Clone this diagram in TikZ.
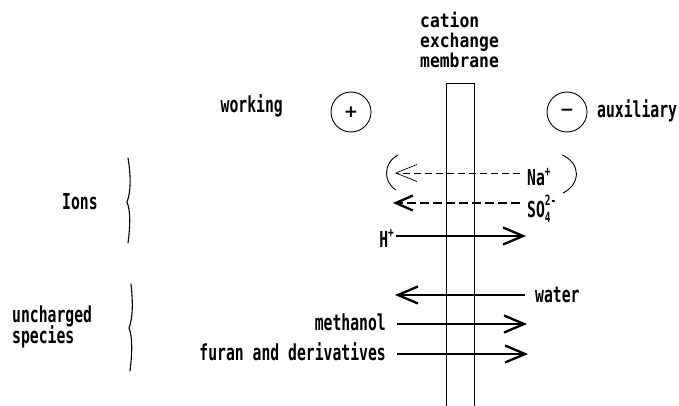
\documentclass[tikz,border=0pt]{standalone}
\usepackage{fontspec}
\newfontfamily\labfont[FakeStretch=0.67]{DejaVu Sans Mono}
\newfontfamily\memfont[FakeStretch=0.86]{DejaVu Sans Mono}
\newfontfamily\symfont{DejaVu Sans}
\usetikzlibrary{arrows.meta}

\begin{document}
\begin{tikzpicture}[x=1pt,y=-1pt,
  lbl/.style={inner sep=0pt, font={\fontsize{22pt}{24pt}\selectfont\labfont\bfseries}},
  memlbl/.style={inner sep=0pt, anchor=base west, font={\fontsize{19pt}{21pt}\selectfont\memfont\bfseries}},
  elec/.style={circle, draw, line width=0.9pt, minimum size=40pt, inner sep=0pt,
               font={\fontsize{17pt}{17pt}\selectfont\symfont\bfseries}},
  memline/.style={line width=0.6pt},
  bigarrow/.style={line width=2.3pt, -{Straight Barb[length=20pt,width=17pt]}},
  naarrow/.style={line width=0.7pt, dash pattern=on 7pt off 4pt,
                  -{Straight Barb[length=21pt,width=17pt]}},
  soarrow/.style={line width=2.3pt, dash pattern=on 9pt off 4pt,
                  -{Straight Barb[length=17pt,width=15pt]}},
  paren/.style={line width=0.9pt},
  groupbrace/.style={line width=1.1pt, line cap=round}
]
\useasboundingbox (0,0) rectangle (679,406);

% membrane
\draw[memline] (446,406) -- (446,83) -- (474,83) -- (474,406);
\node[memlbl] (mem1) at (420,28) {cation};
\node[memlbl] (mem2) at (420,48) {exchange};
\node[memlbl] (mem3) at (420,68) {membrane};

% electrodes
\node[elec] (plus) at (351,112) {+};
\node[elec] (minus) at (567,112) {−};
\node[lbl, anchor=base east] (work) at (283,113) {working};
\node[lbl, anchor=base west] (aux) at (597,118) {auxiliary};

% group labels and hand-drawn braces
\node[lbl, anchor=base west] (ions) at (62,209) {Ions};
\node[lbl, anchor=base west] (unch1) at (12,322) {uncharged};
\node[lbl, anchor=base west] (unch2) at (12,343) {species};
\draw[groupbrace] (128,158) .. controls (131,176) and (131,192) .. (127,202)
                  .. controls (131,212) and (130,228) .. (128,243);
\draw[groupbrace] (131,284) .. controls (133,302) and (133,318) .. (129,328)
                  .. controls (133,338) and (132,355) .. (130,371);

% ions
\node[lbl, anchor=base west] (na) at (527,185)
  {Na\raisebox{9pt}{\fontsize{14pt}{14pt}\selectfont +}};
\node[lbl, anchor=base west] (so4) at (527,217)
  {SO\rlap{\raisebox{12pt}{\fontsize{14pt}{14pt}\selectfont 2-}}\raisebox{-5pt}{\fontsize{14pt}{14pt}\selectfont 4}};
\node[lbl, anchor=base east] (hplus) at (394,247)
  {H\raisebox{10pt}{\fontsize{14pt}{14pt}\selectfont +}};

\coordinate (naTail) at (520,173);
\coordinate (naTip) at (395,173);
\coordinate (soTail) at (520,203);
\coordinate (soTip) at (393,203);
\coordinate (hTail) at (396,236);
\coordinate (hTip) at (526,236);
\draw[naarrow] (naTail) -- (naTip);
\draw[soarrow] (soTail) -- (soTip);
\draw[bigarrow] (hTail) -- (hTip);
\draw[paren] (398,155) .. controls (383,163) and (383,182) .. (396,190);
\draw[paren] (562,155) .. controls (581,163) and (581,184) .. (563,193);

% uncharged species
\node[lbl, anchor=base west] (water) at (535,302) {water};
\node[lbl, anchor=base east] (meth) at (386,330) {methanol};
\node[lbl, anchor=base east] (furan) at (386,360) {furan and derivatives};

\coordinate (wTail) at (525,295);
\coordinate (wTip) at (395,295);
\coordinate (mTail) at (397,324);
\coordinate (mTip) at (527,324);
\coordinate (fTail) at (397,354);
\coordinate (fTip) at (528,354);
\draw[bigarrow] (wTail) -- (wTip);
\draw[bigarrow] (mTail) -- (mTip);
\draw[bigarrow] (fTail) -- (fTip);
\end{tikzpicture}
\end{document}
